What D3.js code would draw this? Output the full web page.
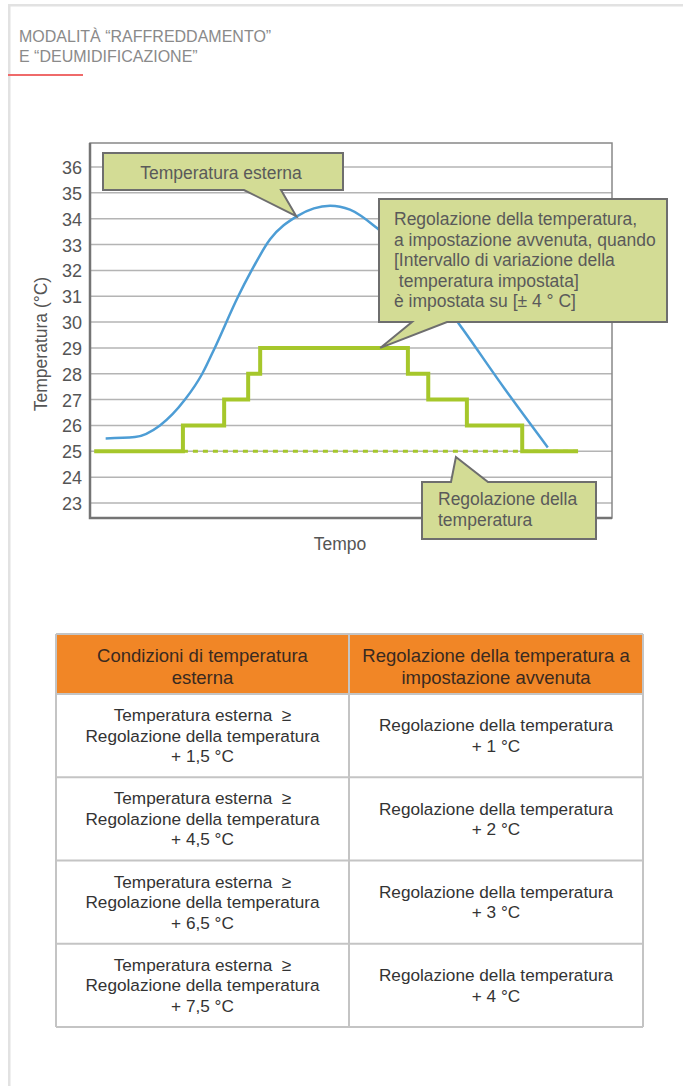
<!DOCTYPE html>
<html>
<head>
<meta charset="utf-8">
<style>
  body { margin: 0; background: #fff; }
  svg text { font-family: "Liberation Sans", Arial, sans-serif; }
</style>
</head>
<body>
<script src="https://cdn.jsdelivr.net/npm/d3@7"></script>
<script>
// ---- data -------------------------------------------------------------
// y axis ticks (°C)
var yTicks = d3.range(23, 37);

// outside temperature (blue curve), time in arbitrary units 0..100
var outsideTime = [3, 8.6, 13.4, 18.2, 21.5, 23.9, 28.4, 30.7, 34.5, 39.7, 46, 49.8, 55.2, 63.2, 71.5, 79.5, 87.7];
var outsideTemp = [25.5, 25.55, 26.0, 27.0, 28.0, 29.0, 31.0, 31.9, 33.2, 34.1, 34.5, 34.35, 33.6, 32.0, 29.7, 27.4, 25.15];

// temperature setting once adjusted (green steps)
var setTime = [0.8, 17.8, 25.7, 30.3, 32.6, 60.9, 64.8, 72.2, 82.8, 93.5];
var setTemp = [25, 26, 27, 28, 29, 28, 27, 26, 25, 25];

// base temperature setting (dotted)
var baseTime = [17.8, 94.3];
var baseTemp = [25, 25];

// callout tips, in data units
var calloutTipTime = [39.5, 55.6, 70.1];
var calloutTipTemp = [34.1, 29, 24.78];

// table
var tableHeader = [["Condizioni di temperatura", "esterna"],
                   ["Regolazione della temperatura a", "impostazione avvenuta"]];
var conditionOffsets = ["1,5", "4,5", "6,5", "7,5"];
var adjustOffsets = ["1", "2", "3", "4"];

// ---- layout -----------------------------------------------------------
var W = 683, H = 1086;
var plot = { left: 90, right: 612, top: 143, bottom: 518 };

var svg = d3.select("body").append("svg")
    .attr("width", W)
    .attr("height", H);

// page frame
svg.append("rect").attr("x", 8).attr("y", 4).attr("width", W - 8).attr("height", 2.5).attr("fill", "#e2e2e2");
svg.append("rect").attr("x", 8).attr("y", 4).attr("width", 2.5).attr("height", H - 4).attr("fill", "#e2e2e2");

// section title
svg.append("text").attr("x", 19).attr("y", 42).text("MODALITÀ “RAFFREDDAMENTO”")
    .style("font-size", "16px").style("fill", "#8a8a8a");
svg.append("text").attr("x", 19).attr("y", 62).text("E “DEUMIDIFICAZIONE”")
    .style("font-size", "16px").style("fill", "#8a8a8a");
svg.append("rect").attr("x", 8).attr("y", 74).attr("width", 75).attr("height", 2).attr("fill", "#ef6a6a");

// scales
var x = d3.scaleLinear().domain([0, 100]).range([plot.left, plot.right]);
var y = d3.scaleLinear().domain([23, 36]).range([503, 167]);

// grid
svg.append("g").selectAll("line")
  .data(yTicks)
  .join("line")
    .attr("x1", plot.left).attr("x2", plot.right)
    .attr("y1", function (d) { return y(d); })
    .attr("y2", function (d) { return y(d); })
    .attr("stroke", "#b4b4b4")
    .attr("stroke-width", 1.5);

// plot frame
svg.append("rect")
    .attr("x", plot.left).attr("y", plot.top)
    .attr("width", plot.right - plot.left).attr("height", plot.bottom - plot.top)
    .attr("fill", "none").attr("stroke", "#888").attr("stroke-width", 1.5);
svg.append("path")
    .attr("d", "M" + plot.left + "," + plot.top + "V" + plot.bottom + "H" + plot.right)
    .attr("fill", "none").attr("stroke", "#747474").attr("stroke-width", 2.5);

// y axis labels
var yAxis = d3.axisLeft(y).tickValues(yTicks).tickSize(0).tickPadding(8);
var ya = svg.append("g")
    .attr("transform", "translate(" + plot.left + ",0)")
    .call(yAxis);
ya.select(".domain").remove();
ya.selectAll("text")
    .attr("dy", "0.36em")
    .style("font-size", "18px")
    .style("fill", "#555")
    .style("font-family", "'Liberation Sans', Arial, sans-serif");

// axis titles
svg.append("text")
    .attr("transform", "translate(47,344) rotate(-90)")
    .attr("text-anchor", "middle")
    .text("Temperatura (°C)")
    .style("font-size", "17.5px").style("fill", "#555");
svg.append("text")
    .attr("x", 340).attr("y", 550)
    .attr("text-anchor", "middle")
    .text("Tempo")
    .style("font-size", "17.5px").style("fill", "#555");

// base set temperature (dotted)
var line = d3.line()
    .x(function (d) { return x(d[0]); })
    .y(function (d) { return y(d[1]); });

svg.append("path")
    .attr("d", line(d3.zip(baseTime, baseTemp)))
    .attr("fill", "none")
    .attr("stroke", "#a6c72b")
    .attr("stroke-width", 3)
    .attr("stroke-dasharray", "5,5");

// outside temperature
svg.append("path")
    .attr("d", line.curve(d3.curveMonotoneX)(d3.zip(outsideTime, outsideTemp)))
    .attr("fill", "none")
    .attr("stroke", "#4d9dd5")
    .attr("stroke-width", 2.5);

// adjusted set temperature (steps)
svg.append("path")
    .attr("d", line.curve(d3.curveStepAfter)(d3.zip(setTime, setTemp)))
    .attr("fill", "none")
    .attr("stroke", "#a6c72b")
    .attr("stroke-width", 4);

// ---- callouts ---------------------------------------------------------
function callout(box, tailA, tailB, tipIdx, lines, lineX, firstBase, step, anchor) {
  var tx = x(calloutTipTime[tipIdx]), ty = y(calloutTipTemp[tipIdx]);
  var d;
  if (ty > box.y1) {
    // tail below the box
    d = "M" + box.x0 + "," + box.y0 + "H" + box.x1 + "V" + box.y1 +
        "H" + tailB + "L" + tx + "," + ty + "L" + tailA + "," + box.y1 + "H" + box.x0 + "Z";
  } else {
    // tail above the box
    d = "M" + box.x0 + "," + box.y0 + "H" + tailA + "L" + tx + "," + ty + "L" + tailB + "," + box.y0 +
        "H" + box.x1 + "V" + box.y1 + "H" + box.x0 + "Z";
  }
  svg.append("path")
      .attr("d", d)
      .attr("fill", "#d3dc95")
      .attr("stroke", "#6e6e6e")
      .attr("stroke-width", 2)
      .attr("stroke-linejoin", "miter");
  svg.append("g").selectAll("text")
    .data(lines)
    .join("text")
      .attr("x", lineX)
      .attr("y", function (d, i) { return firstBase + i * step; })
      .attr("text-anchor", anchor)
      .attr("xml:space", "preserve")
      .text(function (d) { return d; })
      .style("font-size", "17.5px")
      .style("fill", "#5a5a5a");
}

callout({ x0: 103, x1: 343, y0: 153, y1: 190 }, 244, 281, 0,
        ["Temperatura esterna"], 221, 179, 0, "middle");

callout({ x0: 379, x1: 667, y0: 199, y1: 322 }, 412, 447, 1,
        ["Regolazione della temperatura,",
         "a impostazione avvenuta, quando",
         "[Intervallo di variazione della",
         " temperatura impostata]",
         "è impostata su [± 4 ° C]"], 394, 225, 20.5, "start");

callout({ x0: 422, x1: 596, y0: 482, y1: 539 }, 451, 488, 2,
        ["Regolazione della", "temperatura"], 438, 505, 20.5, "start");

// ---- table ------------------------------------------------------------
var tbl = { left: 56, mid: 349, right: 643, top: 634, headH: 60, rowH: 83.25 };

var rows = conditionOffsets.map(function (c, i) {
  return [["Temperatura esterna  ≥", "Regolazione della temperatura", "+ " + c + " °C"],
          ["Regolazione della temperatura", "+ " + adjustOffsets[i] + " °C"]];
});

svg.append("rect")
    .attr("x", tbl.left).attr("y", tbl.top)
    .attr("width", tbl.right - tbl.left).attr("height", tbl.headH)
    .attr("fill", "#f18626");

var colX = [(tbl.left + tbl.mid) / 2, (tbl.mid + tbl.right) / 2];

// header text
tableHeader.forEach(function (lines, c) {
  svg.append("g").selectAll("text")
    .data(lines)
    .join("text")
      .attr("x", colX[c])
      .attr("y", function (d, i) { return 662 + i * 22; })
      .attr("text-anchor", "middle")
      .text(function (d) { return d; })
      .style("font-size", "18.5px")
      .style("fill", "#3a2a20");
});

// body text
rows.forEach(function (row, r) {
  var cy = tbl.top + tbl.headH + r * tbl.rowH + tbl.rowH / 2;
  row.forEach(function (lines, c) {
    var n = lines.length;
    svg.append("g").selectAll("text")
      .data(lines)
      .join("text")
        .attr("x", colX[c])
        .attr("y", function (d, i) { return cy + 6 + (i - (n - 1) / 2) * 20.5; })
        .attr("text-anchor", "middle")
        .attr("xml:space", "preserve")
        .text(function (d) { return d; })
        .style("font-size", "17.2px")
        .style("fill", "#333");
  });
});

// table borders
var tableBottom = tbl.top + tbl.headH + rows.length * tbl.rowH;
var hLines = [tbl.top, tbl.top + tbl.headH].concat(rows.map(function (d, i) {
  return tbl.top + tbl.headH + (i + 1) * tbl.rowH;
}));
svg.append("g").selectAll("line")
  .data(hLines)
  .join("line")
    .attr("x1", tbl.left).attr("x2", tbl.right)
    .attr("y1", function (d) { return d; }).attr("y2", function (d) { return d; })
    .attr("stroke", "#c4c4c4").attr("stroke-width", 2);
svg.append("g").selectAll("line")
  .data([tbl.left, tbl.mid, tbl.right])
  .join("line")
    .attr("x1", function (d) { return d; }).attr("x2", function (d) { return d; })
    .attr("y1", tbl.top).attr("y2", tableBottom)
    .attr("stroke", "#c4c4c4").attr("stroke-width", 2);
</script>
</body>
</html>
